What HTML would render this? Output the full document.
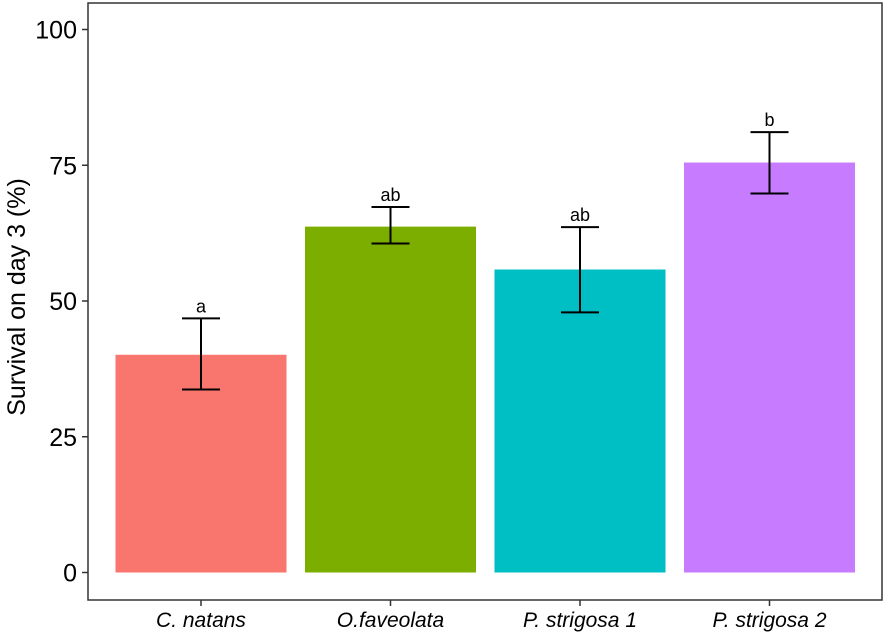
<!DOCTYPE html>
<html><head><meta charset="utf-8"><style>
body{margin:0;background:#fff;}
svg text{font-family:"Liberation Sans",Arial,sans-serif;}
</style></head><body>
<svg id="chart" width="886" height="635" viewBox="0 0 886 635" xmlns="http://www.w3.org/2000/svg">
<rect x="88" y="3" width="794" height="597" fill="#fff" stroke="#333" stroke-width="1.5"/>
<g id="bars"></g><g id="errs"></g><g id="axes"></g>
<text transform="translate(25,297) rotate(-90)" text-anchor="middle" font-size="25" fill="#000">Survival on day 3 (%)</text>
</svg>
<script>
const categories=["C. natans","O.faveolata","P. strigosa 1","P. strigosa 2"];
const values=[40.1,63.7,55.8,75.5];
const errLow=[33.7,60.6,47.9,69.8];
const errHigh=[46.8,67.3,63.6,81.1];
const letters=["a","ab","ab","b"];
const colors=["#F8766D","#7CAE00","#00BFC4","#C77CFF"];
const yTicks=[0,25,50,75,100];
const NS="http://www.w3.org/2000/svg";
function y(v){return 572.5-(572.5-29.5)*v/100;}
const step=189.5, x0=201;
function x(i){return x0+i*step;}
const bw=171;
function mk(tag,attrs,parent){const e=document.createElementNS(NS,tag);for(const k in attrs)e.setAttribute(k,attrs[k]);document.getElementById(parent).appendChild(e);return e;}
categories.forEach((c,i)=>{
 const b=mk('rect',{x:x(i)-bw/2,y:y(values[i]),width:bw,height:y(0)-y(values[i]),fill:colors[i]},'bars');
 
 
 const l1=mk('line',{x1:x(i),x2:x(i),y1:y(errLow[i]),y2:y(errHigh[i]),stroke:'#000','stroke-width':2},'errs');
 
 
 [errLow[i],errHigh[i]].forEach(v=>{const c2=mk('line',{x1:x(i)-19,x2:x(i)+19,y1:y(v),y2:y(v),stroke:'#000','stroke-width':2},'errs');
  
  });
 const t=mk('text',{x:x(i),y:y(errHigh[i])-6,'text-anchor':'middle','font-size':18,fill:'#000'},'errs');
 t.textContent=letters[i];
 
 
 const tk=mk('line',{x1:x(i),x2:x(i),y1:600,y2:606,stroke:'#333','stroke-width':1.5},'axes');
 
 
 const lb=mk('text',{x:x(i),y:627,'text-anchor':'middle','font-size':21,'font-style':'italic',fill:'#000'},'axes');
 lb.textContent=c;
 
 
});
yTicks.forEach(v=>{
 const tk=mk('line',{x1:82,x2:88,y1:y(v),y2:y(v),stroke:'#333','stroke-width':1.5},'axes');
 
 
 const lb=mk('text',{x:77,y:y(v)+9,'text-anchor':'end','font-size':25,fill:'#000'},'axes');
 lb.textContent=v;
 
 
});
</script>
</body></html>
